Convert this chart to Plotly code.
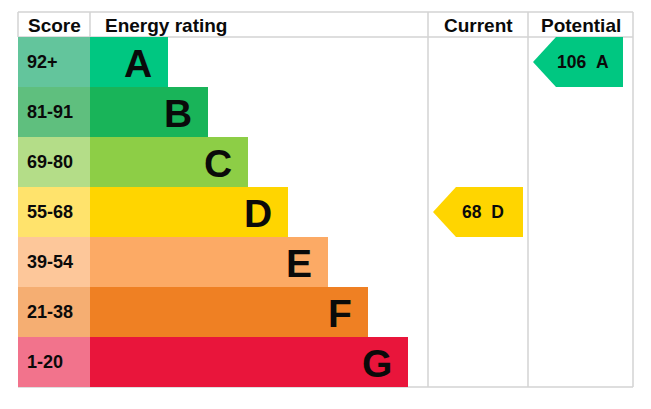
import plotly.graph_objects as go

# EPC energy rating table
bands = ["A", "B", "C", "D", "E", "F", "G"]
score_ranges = ["92+", "81-91", "69-80", "55-68", "39-54", "21-38", "1-20"]
bar_colors = ["#00c781", "#19b459", "#8dce46", "#ffd500", "#fcaa65", "#ef8023", "#e9153b"]
score_colors = ["#63c59c", "#5fbf7e", "#b4dd88", "#ffe36c", "#fdc79a", "#f5ae72", "#f2738c"]

current_score = 68
current_band = "D"
potential_score = 106
potential_band = "A"

# layout in px-like units
W, H = 651, 409
off = 8  # page body margin
left, right = 18, 633
top, head = 12, 37
row_h = 50
score_w = 72
bar0 = left + score_w
cur_x0, pot_x0 = 428, 528
bottom = head + row_h * len(bands)

rows = [head + row_h * (i + 0.5) for i in range(len(bands))]
bar_len = [78 + 40 * i for i in range(len(bands))]

fig = go.Figure()

# score cells
fig.add_trace(go.Bar(
    y=rows, x=[score_w] * len(bands), base=left, orientation="h", width=row_h,
    marker=dict(color=score_colors, line=dict(width=0)), hoverinfo="skip",
))
# rating bars
fig.add_trace(go.Bar(
    y=rows, x=bar_len, base=bar0, orientation="h", width=row_h,
    marker=dict(color=bar_colors, line=dict(width=0)), hoverinfo="skip",
))

ann = []
for i, b in enumerate(bands):
    ann.append(dict(x=bar0 + bar_len[i] - 14, y=rows[i] + 1, text="<b>%s</b>" % b,
                    xanchor="right", yanchor="middle", showarrow=False,
                    font=dict(size=39, color="#0a0a0a", family="Liberation Sans, Arial")))
    ann.append(dict(x=left + 7, y=rows[i], text="<b>%s</b>" % score_ranges[i],
                    xanchor="left", yanchor="middle", showarrow=False,
                    font=dict(size=18, color="#0a0a0a", family="Liberation Sans, Arial")))


def arrow(col_x0, score, band):
    i = bands.index(band)
    yc = rows[i]
    tip, body, end = col_x0 + 5, col_x0 + 28, col_x0 + 95
    fig.add_trace(go.Scatter(
        x=[tip, body, end, end, body, tip], y=[yc, yc - row_h / 2, yc - row_h / 2, yc + row_h / 2, yc + row_h / 2, yc],
        fill="toself", fillcolor=bar_colors[i], mode="lines", line=dict(width=0),
        hoverinfo="skip",
    ))
    ann.append(dict(x=(tip + end) / 2 + 5, y=yc, text="<b>%d&nbsp;&nbsp;%s</b>" % (score, band),
                    xanchor="center", yanchor="middle", showarrow=False,
                    font=dict(size=17.5, color="#0a0a0a", family="Liberation Sans, Arial")))


arrow(cur_x0, current_score, current_band)
arrow(pot_x0, potential_score, potential_band)

# headers
hfont = dict(size=19, color="#0a0a0a", family="Liberation Sans, Arial")
hy = (top + head) / 2 + 1
ann.append(dict(x=left + 8, y=hy, text="<b>Score</b>", xanchor="left", yanchor="middle", showarrow=False, font=hfont))
ann.append(dict(x=bar0 + 13, y=hy, text="<b>Energy rating</b>", xanchor="left", yanchor="middle", showarrow=False, font=hfont))
ann.append(dict(x=(cur_x0 + pot_x0) / 2, y=hy, text="<b>Current</b>", xanchor="center", yanchor="middle", showarrow=False, font=hfont))
ann.append(dict(x=(pot_x0 + right) / 2, y=hy, text="<b>Potential</b>", xanchor="center", yanchor="middle", showarrow=False, font=hfont))

# table lines
lc = dict(color="#d3d3d3", width=1.5)
shapes = [
    dict(type="line", x0=left, x1=right, y0=top, y1=top, line=lc, layer="below"),
    dict(type="line", x0=left, x1=right, y0=head, y1=head, line=lc, layer="below"),
    dict(type="line", x0=left, x1=right, y0=bottom, y1=bottom, line=lc, layer="below"),
    dict(type="line", x0=left, x1=left, y0=top, y1=head, line=lc, layer="below"),
    dict(type="line", x0=bar0, x1=bar0, y0=top, y1=head, line=lc, layer="below"),
    dict(type="line", x0=cur_x0, x1=cur_x0, y0=top, y1=bottom, line=lc, layer="below"),
    dict(type="line", x0=pot_x0, x1=pot_x0, y0=top, y1=bottom, line=lc, layer="below"),
    dict(type="line", x0=right, x1=right, y0=top, y1=bottom, line=lc, layer="below"),
]

fig.update_layout(
    width=W, height=H,
    margin=dict(l=0, r=0, t=0, b=0),
    paper_bgcolor="white", plot_bgcolor="white",
    showlegend=False, barmode="overlay",
    xaxis=dict(range=[off, W + off], visible=False, fixedrange=True),
    yaxis=dict(range=[H + off, off], visible=False, fixedrange=True),
    annotations=ann, shapes=shapes,
)

fig.write_html("out.html")
